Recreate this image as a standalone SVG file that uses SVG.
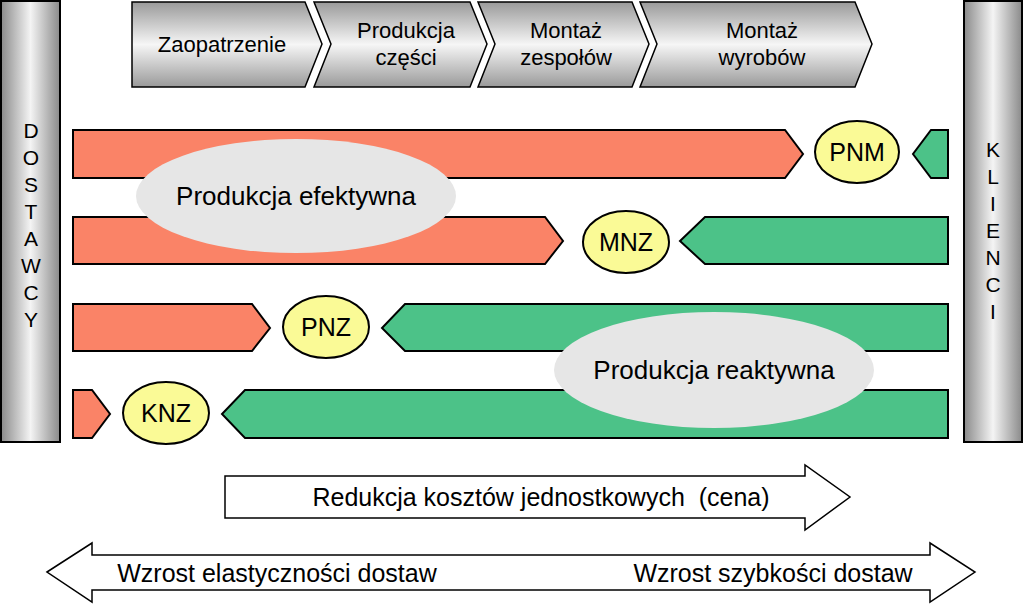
<svg xmlns="http://www.w3.org/2000/svg" width="1024" height="605" viewBox="0 0 1024 605">
<defs>
<linearGradient id="gh" x1="0" x2="1" y1="0" y2="0"><stop offset="0" stop-color="#8a8a8a"/><stop offset="0.5" stop-color="#f4f4f4"/><stop offset="1" stop-color="#8a8a8a"/></linearGradient>
<linearGradient id="gv" x1="0" x2="0" y1="0" y2="1"><stop offset="0" stop-color="#9a9a9a"/><stop offset="0.5" stop-color="#f6f6f6"/><stop offset="1" stop-color="#9a9a9a"/></linearGradient>
<style>
text{font-family:"Liberation Sans",Arial,sans-serif;fill:#000;text-anchor:middle}
.bar{stroke:#000;stroke-width:2}
.r{fill:#fa8367}.g{fill:#4cc288}
.y{fill:#fafa96;stroke:#000;stroke-width:2}
.gr{fill:#e6e6e6}
.ch{fill:url(#gv);stroke:#000;stroke-width:1.5}
.w{fill:#fff;stroke:#000;stroke-width:1.5}
</style>
</defs>
<g id="dostawcy"><rect x="1" y="1" width="59" height="441" fill="url(#gh)" stroke="#000" stroke-width="2"/>
<text x="31" y="138" font-size="21"><tspan x="31" dy="0">D</tspan><tspan x="31" dy="27">O</tspan><tspan x="31" dy="27">S</tspan><tspan x="31" dy="27">T</tspan><tspan x="31" dy="27">A</tspan><tspan x="31" dy="27">W</tspan><tspan x="31" dy="27">C</tspan><tspan x="31" dy="27">Y</tspan></text></g>
<g id="klienci"><rect x="964" y="1" width="58" height="441" fill="url(#gh)" stroke="#000" stroke-width="2"/>
<text x="993" y="157" font-size="21"><tspan x="993" dy="0">K</tspan><tspan x="993" dy="27">L</tspan><tspan x="993" dy="27">I</tspan><tspan x="993" dy="27">E</tspan><tspan x="993" dy="27">N</tspan><tspan x="993" dy="27">C</tspan><tspan x="993" dy="27">I</tspan></text></g>
<g id="chevrons" font-size="22">
<g id="c1"><polygon class="ch" points="132,2 305,2 322,44 305,87 132,87"/><text x="222" y="52">Zaopatrzenie</text></g>
<g id="c2"><polygon class="ch" points="314,2 470,2 487,44 470,87 314,87 331,44"/><text x="406" y="38">Produkcja</text><text x="406" y="65">części</text></g>
<g id="c3"><polygon class="ch" points="478,2 632,2 649,44 632,87 478,87 495,44"/><text x="566" y="38">Montaż</text><text x="566" y="65">zespołów</text></g>
<g id="c4"><polygon class="ch" points="640,2 855,2 872,44 855,87 640,87 657,44"/><text x="762" y="38">Montaż</text><text x="762" y="65">wyrobów</text></g>
</g>
<g id="rows">
<polygon class="bar r" points="73,130 785,130 803,154 785,178 73,178"/>
<polygon class="bar g" points="931,130 948,130 948,178 931,178 913,154"/>
<polygon class="bar r" points="73,217 545,217 563,241 545,264 73,264"/>
<polygon class="bar g" points="705,217 948,217 948,264 705,264 680,241"/>
<polygon class="bar r" points="73,304 252,304 270,328 252,351 73,351"/>
<polygon class="bar g" points="405,304 948,304 948,351 405,351 382,328"/>
<polygon class="bar r" points="73,390 92,390 110,414 92,438 73,438"/>
<polygon class="bar g" points="245,390 948,390 948,438 245,438 222,414"/>
</g>
<g id="efektywna"><ellipse class="gr" cx="296" cy="196" rx="160" ry="57"/><text x="296" y="205" font-size="26">Produkcja efektywna</text></g>
<g id="reaktywna"><ellipse class="gr" cx="714" cy="370" rx="160" ry="58"/><text x="714" y="379" font-size="26">Produkcja reaktywna</text></g>
<g id="pnm"><ellipse class="y" cx="857" cy="152" rx="42" ry="31"/><text x="857" y="161" font-size="25">PNM</text></g>
<g id="mnz"><ellipse class="y" cx="626" cy="242" rx="43" ry="31"/><text x="626" y="251" font-size="25">MNZ</text></g>
<g id="pnz"><ellipse class="y" cx="326" cy="327" rx="43" ry="31"/><text x="326" y="336" font-size="25">PNZ</text></g>
<g id="knz"><ellipse class="y" cx="166" cy="413" rx="43" ry="31"/><text x="166" y="422" font-size="25">KNZ</text></g>
<g id="connectors">
<polygon class="w" points="225,476 805,476 805,465 850,497 805,530 805,518 225,518"/>
<polygon class="w" points="47,572 92,543 92,555 930,555 930,543 975,572 930,602 930,590 92,590 92,602"/>
</g>
<text x="541" y="506" font-size="25" xml:space="preserve">Redukcja kosztów jednostkowych  (cena)</text>
<text x="277" y="582" font-size="25">Wzrost elastyczności dostaw</text>
<text x="773" y="582" font-size="25">Wzrost szybkości dostaw</text>
</svg>
